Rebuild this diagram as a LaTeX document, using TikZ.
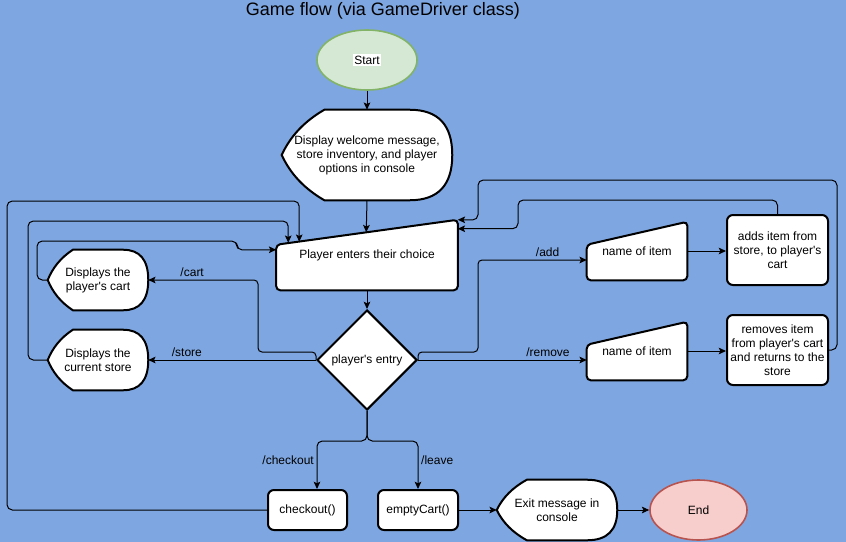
\documentclass[tikz,border=0pt]{standalone}
\usepackage{fontspec}
\setmainfont{Liberation Sans}[Ligatures=TeXOff]
\usepackage{xcolor}
\usetikzlibrary{positioning}
\usetikzlibrary{arrows.meta}
\usetikzlibrary{calc}
\usetikzlibrary{shapes.geometric}

\definecolor{bgblue}{HTML}{7EA6E0}
\definecolor{startfill}{HTML}{D5E8D4}
\definecolor{startline}{HTML}{82B366}
\definecolor{endfill}{HTML}{F8CECC}
\definecolor{endline}{HTML}{B85450}

\setlength{\fboxsep}{1pt}

\pgfdeclarelayer{back}
\pgfdeclarelayer{outline}
\pgfsetlayers{back,outline,main}

% display shape round a named node: pointed left side, round right side
\newcommand{\dispoutline}[1]{%
  \path[outline line] let \p1=(#1.north west), \p2=(#1.south east) in
    (\x1,{0.5*(\y1+\y2)})
    .. controls ({\x1+0.05*(\x2-\x1)},{\y1-0.293*(\y1-\y2)}) and ({\x1+0.133*(\x2-\x1)},{\y1-0.127*(\y1-\y2)}) .. ({\x1+0.25*(\x2-\x1)},\y1)
    -- ({\x2-0.25*(\x2-\x1)},\y1)
    .. controls ({\x2-0.083*(\x2-\x1)},\y1) and (\x2,{\y1-0.167*(\y1-\y2)}) .. (\x2,{0.5*(\y1+\y2)})
    .. controls (\x2,{\y2+0.167*(\y1-\y2)}) and ({\x2-0.083*(\x2-\x1)},\y2) .. ({\x2-0.25*(\x2-\x1)},\y2)
    -- ({\x1+0.25*(\x2-\x1)},\y2)
    .. controls ({\x1+0.133*(\x2-\x1)},{\y2+0.127*(\y1-\y2)}) and ({\x1+0.05*(\x2-\x1)},{\y2+0.293*(\y1-\y2)}) .. cycle;
}
% manual input shape round a named node
\newcommand{\manualoutline}[2]{%
  \draw[outline line, rounded corners=3pt] (#1.south west) -- ($(#1.north west)+(0,#2)$)
    -- (#1.north east) -- (#1.south east) -- cycle;
}

\begin{document}
\begin{tikzpicture}[x=0.75pt,y=-0.75pt,>={Stealth[length=5.5pt,width=5pt,inset=1.2pt]},
                    font=\fontsize{9}{10.5}\selectfont,
                    every node/.style={inner sep=0pt,align=center},
                    boxsize/.style 2 args={minimum width=#1,minimum height=#2},
                    roundbox/.style={rectangle,draw,fill=white,line width=1.5pt,rounded corners=4.5pt},
                    terminal/.style={ellipse,line width=1.2pt},
                    decision/.style={diamond,draw,fill=white,line width=1.5pt,minimum size=75pt},
                    outline line/.style={draw,fill=white,line width=1.5pt},
                    flow/.style={->,line width=0.75pt,rounded corners=4pt},
                    edgelabel/.style={inner sep=2pt}]
\useasboundingbox (0,0) rectangle (846,542);
\begin{pgfonlayer}{back}
  \fill[bgblue] (0,0) rectangle (846,542);
\end{pgfonlayer}

\node (title) at (383,11) {\fontsize{13.5}{16}\selectfont Game flow (via GameDriver class)};
\node[terminal,fill=startfill,draw=startline,boxsize={75pt}{45pt}] (start) at (367,60) {\colorbox{white}{Start}};
\node[boxsize={127.5pt}{67.5pt}] (welcome) at (367,155) {Display welcome message,\\store inventory, and player\\options in console};
\node[boxsize={135.75pt}{52.5pt}] (choice) at (367,255) {Player enters their choice};
\node[decision] (entry) at (367,360) {player's entry};
\node[boxsize={75pt}{45pt}] (cart) at (98,280) {Displays the\\player's cart};
\node[boxsize={75pt}{45pt}] (store) at (98,360) {Displays the\\current store};
\node[boxsize={75pt}{43.5pt}] (additem) at (637,251) {name of item};
\node[boxsize={75pt}{43.5pt}] (removeitem) at (637,351) {name of item};
\node[roundbox,boxsize={75.75pt}{52.5pt}] (adds) at (777.5,250) {adds item from\\store, to player's\\cart};
\node[roundbox,boxsize={75.75pt}{52.5pt}] (removes) at (777.5,350) {removes item\\from player's cart\\and returns to the\\store};
\node[roundbox,boxsize={59.25pt}{30pt}] (checkout) at (307.5,510) {checkout()};
\node[roundbox,boxsize={60pt}{30pt}] (empty) at (418,510) {emptyCart()};
\node[boxsize={90pt}{45pt}] (exit) at (557,510) {Exit message in\\console};
\node[terminal,fill=endfill,draw=endline,boxsize={72.75pt}{45pt}] (end) at (698.5,510) {End};

\begin{pgfonlayer}{outline}
  \dispoutline{welcome}
  \dispoutline{cart}
  \dispoutline{store}
  \dispoutline{exit}
  \manualoutline{choice}{25}
  \manualoutline{additem}{23}
  \manualoutline{removeitem}{23}
\end{pgfonlayer}

\coordinate (choice-top) at ($(choice.north west)+(90,12.5)$);

\draw[flow] (start) -- (welcome);
\draw[flow] (welcome.south) -- (choice-top);
\draw[flow] (choice.south) -- (entry.north);
\draw[flow] (entry.west) -- node[edgelabel,above,pos=0.77] {/store} (store.east);
\draw[flow,rounded corners=3pt] (entry.west) |- (258,352) |- node[edgelabel,above,pos=0.8] {/cart} (cart.east);
\draw[flow,rounded corners=3pt] (entry.east) |- (478,352) |- node[edgelabel,above,pos=0.82] {/add} ($(additem.west)+(0,9)$);
\draw[flow] (entry.east) -- node[edgelabel,above,pos=0.77] {/remove} (entry.east -| removeitem.west);
\draw[flow] (additem.east) -- (additem.east -| adds.west);
\draw[flow] (removeitem.east) -- (removeitem.east -| removes.west);
\draw[flow] (adds.north) |- (518,200) |- ($(choice.north east)+(0,9)$);
\draw[flow] (removes.east) -| (837,180) -| (478,220) -- (choice.north east);
\draw[flow] (cart.west) -| (37,241) -| (237,250) -- ($(choice.north west)+(0,30)$);
\draw[flow] (store.west) -| (28,221) -| ($(choice.north west)+(12,23)$);
\draw[flow] (checkout.west) -| (7,201) -| ($(choice.north west)+(23,22)$);
\draw[flow] (entry.south) -- ++(0,30) -| node[edgelabel,left,pos=0.7] {/checkout} ($(checkout.north)+(9.5,0)$);
\draw[flow] (entry.south) -- ++(0,30) -| node[edgelabel,right,pos=0.7] {/leave} (empty.north);
\draw[flow] (empty) -- (exit);
\draw[flow] (exit) -- (end);

\end{tikzpicture}
\end{document}
